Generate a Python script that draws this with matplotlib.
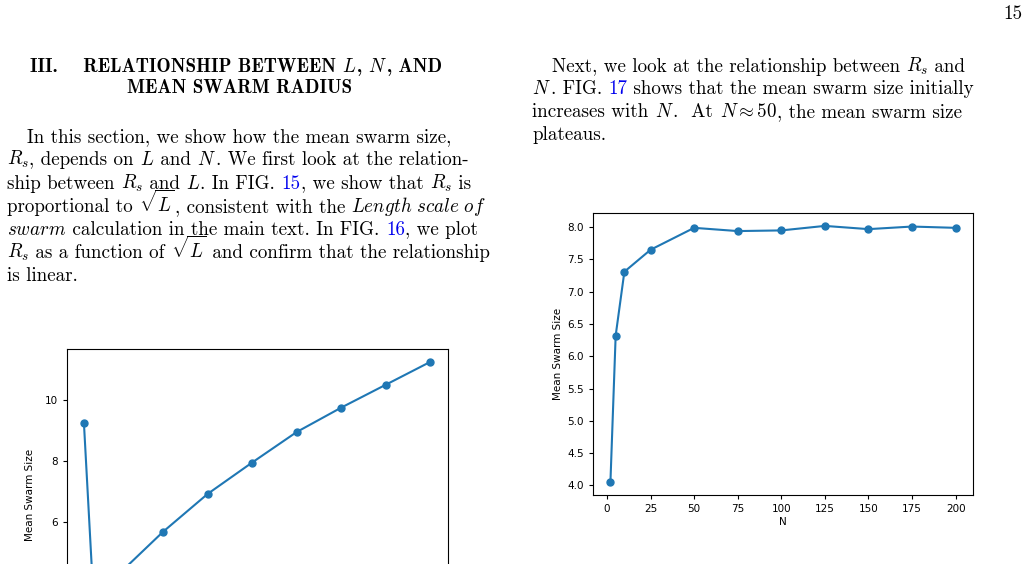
import matplotlib
matplotlib.use("Agg")
import matplotlib.pyplot as plt

plt.rcParams['mathtext.fontset'] = 'cm'
plt.rcParams['axes.unicode_minus'] = False

# right chart: mean swarm size vs N
n_vals = [2, 5, 10, 25, 50, 75, 100, 125, 150, 175, 200]
rs_vs_n = [4.05, 6.32, 7.31, 7.65, 7.99, 7.94, 7.95, 8.02, 7.97, 8.01, 7.99]

# left chart: mean swarm size vs sqrt(L) (bottom part cut off on the page)
sqrt_l = [1.22, 1.49, 2.01, 3, 4, 5, 6, 7, 8, 9]
rs_vs_l = [9.25, 2.0, 4.3, 5.68, 6.92, 7.95, 8.95, 9.75, 10.5, 11.25]

fig = plt.figure(figsize=(10.28, 5.64), dpi=100)
page = fig.add_axes([0, 0, 1, 1])
page.set_xlim(0, 1028)
page.set_ylim(564, 0)
page.axis('off')

FS = 13.7
fonts = {'n': 'cmr10', 'b': 'cmr10', 'B': 'cmb10'}


def line(x, y, pieces):
    prev = None
    for txt, st in pieces:
        kw = dict(fontsize=FS, family=fonts[st], va='baseline', ha='left',
                  color='#0000ee' if st == 'b' else 'black')
        if prev is None:
            prev = page.text(x, y, txt, **kw)
        else:
            prev = page.annotate(txt, xy=(1, y), xycoords=(prev, page.transData), **kw)


page.text(1013, 19, "15", fontsize=FS, family='cmr10', ha='center', va='baseline')

line(30, 72, [("III.    RELATIONSHIP BETWEEN ", 'B'), ("$L$", 'n'), (", ", 'B'), ("$N$", 'n'), (", AND", 'B')])
line(127, 93, [("MEAN SWARM RADIUS", 'B')])

line(27, 142, [("In this section, we show how the mean swarm size,", 'n')])
line(7, 165, [("$R_s$", 'n'), (", depends on ", 'n'), ("$L$", 'n'), (" and ", 'n'), ("$N$", 'n'),
              (". We first look at the relation-", 'n')])
line(7, 189, [("ship between ", 'n'), ("$R_s$", 'n'), (" and ", 'n'), ("$L$", 'n'), (". In FIG. ", 'n'),
              ("15", 'b'), (", we show that ", 'n'), ("$R_s$", 'n'), (" is", 'n')])
line(7, 212, [("proportional to ", 'n'), (r"$\sqrt{L}$", 'n'), (", consistent with the ", 'n'),
              (r"$\mathit{Length\ scale\ of}$", 'n')])
line(7, 235, [(r"$\mathit{swarm}$", 'n'), (" calculation in the main text. In FIG. ", 'n'), ("16", 'b'),
              (", we plot", 'n')])
line(7, 258, [("$R_s$", 'n'), (" as a function of ", 'n'), (r"$\sqrt{L}$", 'n'),
              (" and confirm that the relationship", 'n')])
line(7, 281, [("is linear.", 'n')])

line(552, 72, [("Next, we look at the relationship between ", 'n'), ("$R_s$", 'n'), (" and", 'n')])
line(532, 94, [("$N$", 'n'), (". FIG. ", 'n'), ("17", 'b'), (" shows that the mean swarm size initially", 'n')])
line(532, 117, [("increases with ", 'n'), ("$N$", 'n'), (".  At ", 'n'), (r"$N \approx 50$", 'n'),
                (", the mean swarm size", 'n')])
line(532, 140, [("plateaus.", 'n')])

# right chart
ax = fig.add_axes([593 / 1028, 1 - 495 / 564, 380 / 1028, 282 / 564])
ax.plot(n_vals, rs_vs_n, marker='o', markersize=5)
ax.set_xlim(-8, 210)
ax.set_ylim(3.85, 8.22)
ax.set_xticks(range(0, 201, 25))
ax.set_yticks([4.0, 4.5, 5.0, 5.5, 6.0, 6.5, 7.0, 7.5, 8.0])
ax.set_xlabel("N", fontsize=7.5, labelpad=2)
ax.set_ylabel("Mean Swarm Size", fontsize=7.5, labelpad=3)
ax.tick_params(labelsize=7.5, length=3)

# left chart (cut off by page bottom)
ax2 = fig.add_axes([67 / 1028, -0.2, 381 / 1028, 0.381 + 0.2])
ax2.plot(sqrt_l, rs_vs_l, marker='o', markersize=5)
ax2.set_xlim(0.84, 9.4)
ax2.set_ylim(0.92, 11.67)
ax2.set_xticks([])
ax2.set_yticks([6, 8, 10])
ax2.set_ylabel("Mean Swarm Size", fontsize=7.5, labelpad=3)
ax2.yaxis.set_label_coords(-0.085, 0.555)
ax2.tick_params(labelsize=7.5, length=3)

fig.savefig("out.png", dpi=100)
